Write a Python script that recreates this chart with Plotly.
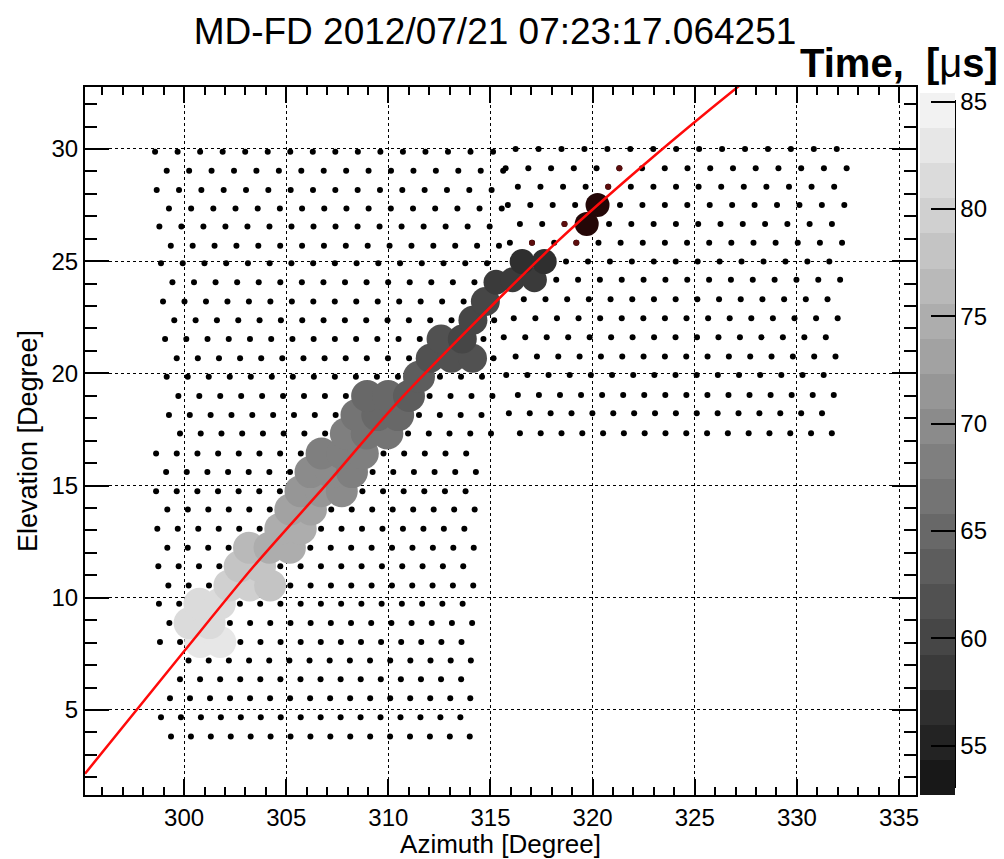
import plotly.graph_objects as go

TITLE = "MD-FD 2012/07/21 07:23:17.064251"

# ---- PMT pointing directions (black dots), one entry per camera row ----
# upper-left camera
UL_EL = [29.88, 29.03, 28.17, 27.35, 26.54, 25.69, 24.91, 24.06, 23.20, 22.37, 21.53, 20.67, 19.85, 18.99, 18.14, 17.32]
UL_AZ0 = [298.58, 299.15, 298.66, 299.26, 298.79, 299.35, 298.87, 299.43, 298.97, 299.52, 299.07, 299.64, 299.15, 299.72, 299.26, 299.80]
UL_STEP = [1.103, 1.098, 1.093, 1.086, 1.078, 1.071, 1.064, 1.056, 1.051, 1.044, 1.039, 1.034, 1.029, 1.025, 1.020, 1.015]
UL_N = [16] * 16
# lower-left camera
LL_EL = [16.43, 15.60, 14.75, 13.93, 13.08, 12.23, 11.40, 10.55, 9.73, 8.87, 8.03, 7.20, 6.37, 5.52, 4.67, 3.82]
LL_AZ0 = [298.63, 299.12, 298.63, 299.18, 298.69, 299.18, 298.74, 299.23, 298.77, 299.28, 298.82, 300.22, 299.80, 299.31, 298.87, 299.36]
LL_STEP = [1.012, 1.011, 1.010, 1.003, 1.002, 1.000, 0.995, 0.995, 0.991, 0.988, 0.984, 0.987, 0.983, 0.980, 0.977, 0.975]
LL_N = [16, 16, 16, 16, 16, 16, 16, 16, 16, 16, 16, 15, 15, 16, 16, 16]
# upper-right camera
UR_EL = [30.00, 29.14, 28.32, 27.50, 26.66, 25.82, 24.98, 24.17, 23.30, 22.46, 21.61, 20.75, 19.93, 19.04, 18.22, 17.33]
UR_AZ0 = [316.23, 315.74, 316.34, 315.85, 316.44, 315.95, 316.55, 316.08, 316.63, 316.14, 315.65, 316.23, 315.77, 316.34, 315.90, 316.44]
UR_STEP = [1.123, 1.113, 1.106, 1.098, 1.091, 1.084, 1.074, 1.069, 1.062, 1.057, 1.051, 1.044, 1.036, 1.031, 1.022, 1.018]
UR_N = [15, 16, 15, 16, 15, 16, 15, 16, 15, 16, 16, 16, 16, 16, 16, 16]

# dim (dark red) tubes near the track
DIM_AZ = [321.31, 320.76, 318.62, 317.03, 319.20]
DIM_EL = [29.14, 28.32, 26.66, 25.82, 25.82]

# ---- hit tubes: azimuth, elevation, time [us] ----
HIT_AZ = [300.79, 301.77, 300.27, 301.25, 300.75, 301.75,
          302.22, 303.21, 304.21, 302.72, 303.72, 303.18, 304.18, 305.18,
          304.71, 305.71, 305.20, 306.21, 305.70, 306.71, 307.72,
          306.19, 307.21, 308.22, 306.73, 307.74, 308.75,
          307.92, 308.94, 309.95, 308.44, 309.46, 310.48,
          308.96, 309.99, 311.01, 311.50,
          312.05, 313.09, 314.12, 312.58, 313.62, 314.14, 314.75, 315.27,
          316.08, 317.15, 316.55, 317.63]
HIT_EL = [8.03, 8.03, 8.87, 8.87, 9.73, 9.73,
          10.55, 10.55, 10.55, 11.40, 11.40, 12.23, 12.23, 12.23,
          13.08, 13.08, 13.93, 13.93, 14.75, 14.75, 14.75,
          15.60, 15.60, 15.60, 16.43, 16.43, 16.43,
          17.32, 17.32, 17.32, 18.14, 18.14, 18.14,
          18.99, 18.99, 18.99, 19.85,
          20.67, 20.67, 20.67, 21.53, 21.53, 22.37, 23.20, 24.06,
          24.17, 24.17, 24.98, 24.98]
HIT_T = [83.0, 82.5, 82.0, 81.5, 81.0, 80.5,
         79.5, 79.0, 78.5, 78.0, 77.5, 76.0, 75.5, 75.0,
         74.5, 74.0, 73.0, 72.5, 71.5, 71.0, 70.5,
         70.0, 69.5, 69.0, 68.5, 68.0, 67.5,
         67.5, 67.0, 66.5, 66.0, 65.5, 65.0,
         65.0, 64.5, 64.0, 63.0,
         62.0, 61.5, 61.0, 61.0, 60.5, 60.0, 59.5, 59.0,
         58.5, 58.0, 57.5, 57.0]
# early tubes (below palette range)
EARLY_AZ = [319.71, 320.24]
EARLY_EL = [26.66, 27.50]

# ---- shower-detector plane track ----
LINE_AZ = [295.15, 300.05, 303.40, 307.16, 310.55, 318.19, 322.44, 327.10, 328.0]
LINE_EL = [2.16, 7.67, 11.39, 15.25, 18.81, 25.80, 29.24, 32.76, 33.40]

T_MIN, T_MAX = 52.7, 85.4
CB_TICKS = [55, 60, 65, 70, 75, 80, 85]
X_TICKS = [300, 305, 310, 315, 320, 325, 330, 335]
Y_TICKS = [5, 10, 15, 20, 25, 30]


def rows_to_points(els, az0s, steps, ns):
    az, el = [], []
    for e, a0, s, n in zip(els, az0s, steps, ns):
        for i in range(n):
            az.append(a0 + i * s)
            el.append(e)
    return az, el


dot_az, dot_el = [], []
for cam in [(UL_EL, UL_AZ0, UL_STEP, UL_N), (LL_EL, LL_AZ0, LL_STEP, LL_N), (UR_EL, UR_AZ0, UR_STEP, UR_N)]:
    a, e = rows_to_points(*cam)
    dot_az += a
    dot_el += e


def hit_marker_size(el):
    # style: circles shrink slightly near the top of the track
    if el < 20:
        return 32
    if el < 24:
        return 29
    return 25


hit_sizes = [hit_marker_size(e) for e in HIT_EL]

# 20-level grey palette
NLEV = 20
scale = []
for k in range(NLEV):
    g = int(round(24 + (242 - 24) * k / (NLEV - 1)))
    c = f"rgb({g},{g},{g})"
    scale.append([k / NLEV, c])
    scale.append([(k + 1) / NLEV, c])

FONT = "Liberation Sans, Arial, Helvetica, sans-serif"
W, H = 1004, 859
L, R, T, B = 85, 88, 87, 64
PW, PH = W - L - R, H - T - B

fig = go.Figure()
fig.add_trace(go.Scatter(x=dot_az, y=dot_el, mode="markers",
                         marker=dict(size=6, color="black", line=dict(width=0)),
                         hoverinfo="skip", showlegend=False))
fig.add_trace(go.Scatter(x=DIM_AZ, y=DIM_EL, mode="markers",
                         marker=dict(size=6, color="#5c0d0d", line=dict(width=0)),
                         hoverinfo="skip", showlegend=False))
fig.add_trace(go.Scatter(
    x=HIT_AZ, y=HIT_EL, mode="markers", showlegend=False,
    marker=dict(size=hit_sizes, color=HIT_T, colorscale=scale, cmin=T_MIN, cmax=T_MAX,
                line=dict(width=0), opacity=1,
                colorbar=dict(xref="container", x=920 / W, xanchor="left", xpad=0,
                              yref="paper", y=0, yanchor="bottom", ypad=0,
                              len=(795 - 93) / PH, lenmode="fraction",
                              thickness=35, thicknessmode="pixels",
                              outlinewidth=0,
                              tickvals=CB_TICKS, ticks="inside", ticklen=24,
                              tickwidth=2, tickcolor="black",
                              tickfont=dict(family=FONT, size=24, color="black"))),
))
fig.add_trace(go.Scatter(x=EARLY_AZ, y=EARLY_EL, mode="markers", showlegend=False,
                         marker=dict(size=24, color="#240707", line=dict(width=0))))
fig.add_trace(go.Scatter(x=LINE_AZ, y=LINE_EL, mode="lines", showlegend=False,
                         line=dict(color="#ff0a0a", width=2.5, shape="spline", smoothing=0.8)))

axis_common = dict(showline=True, linewidth=2, linecolor="black", mirror="allticks",
                   ticks="inside", tickwidth=2, tickcolor="black", automargin=False,
                   showgrid=True, gridcolor="black", griddash="dot", gridwidth=1,
                   zeroline=False, tickfont=dict(family=FONT, size=24, color="black"))

fig.update_layout(
    width=W, height=H,
    margin=dict(l=L, r=R, t=T, b=B, autoexpand=False),
    paper_bgcolor="white", plot_bgcolor="white",
    font=dict(family=FONT, color="black"),
    title=dict(text=TITLE, x=495 / W, xref="container", xanchor="center",
               y=1 - 31 / H, yref="container", yanchor="middle",
               font=dict(family=FONT, size=37, color="black")),
    xaxis=dict(range=[295.15, 335.83], tickvals=X_TICKS,
               ticklen=16,
               minor=dict(ticks="inside", ticklen=8, tickwidth=1.5, tickcolor="black",
                          dtick=1, tick0=0, showgrid=False),
               title=dict(text="Azimuth [Degree]", font=dict(family=FONT, size=26), standoff=0),
               **axis_common),
    yaxis=dict(range=[1.21, 32.76], tickvals=Y_TICKS,
               ticklen=24,
               minor=dict(ticks="inside", ticklen=12, tickwidth=1.5, tickcolor="black",
                          dtick=1, tick0=0, showgrid=False),
               title=dict(text="Elevation [Degree]", font=dict(family=FONT, size=27), standoff=6),
               **axis_common),
    annotations=[dict(text="<b>Time,\u00a0 [</b>\u03bc<b>s]</b>", xref="paper", yref="paper",
                      x=(1000 - L) / PW, y=(H - B - 63) / PH,
                      xanchor="right", yanchor="middle",
                      showarrow=False, font=dict(family=FONT, size=40, color="black"))],
    shapes=[dict(type="line", xref="paper", yref="paper",
                 x0=(955 - L) / PW, x1=(955 - L) / PW,
                 y0=0.01, y1=(795 - 100) / PH,
                 line=dict(color="black", width=2))],
)

fig.write_html("out.html")
